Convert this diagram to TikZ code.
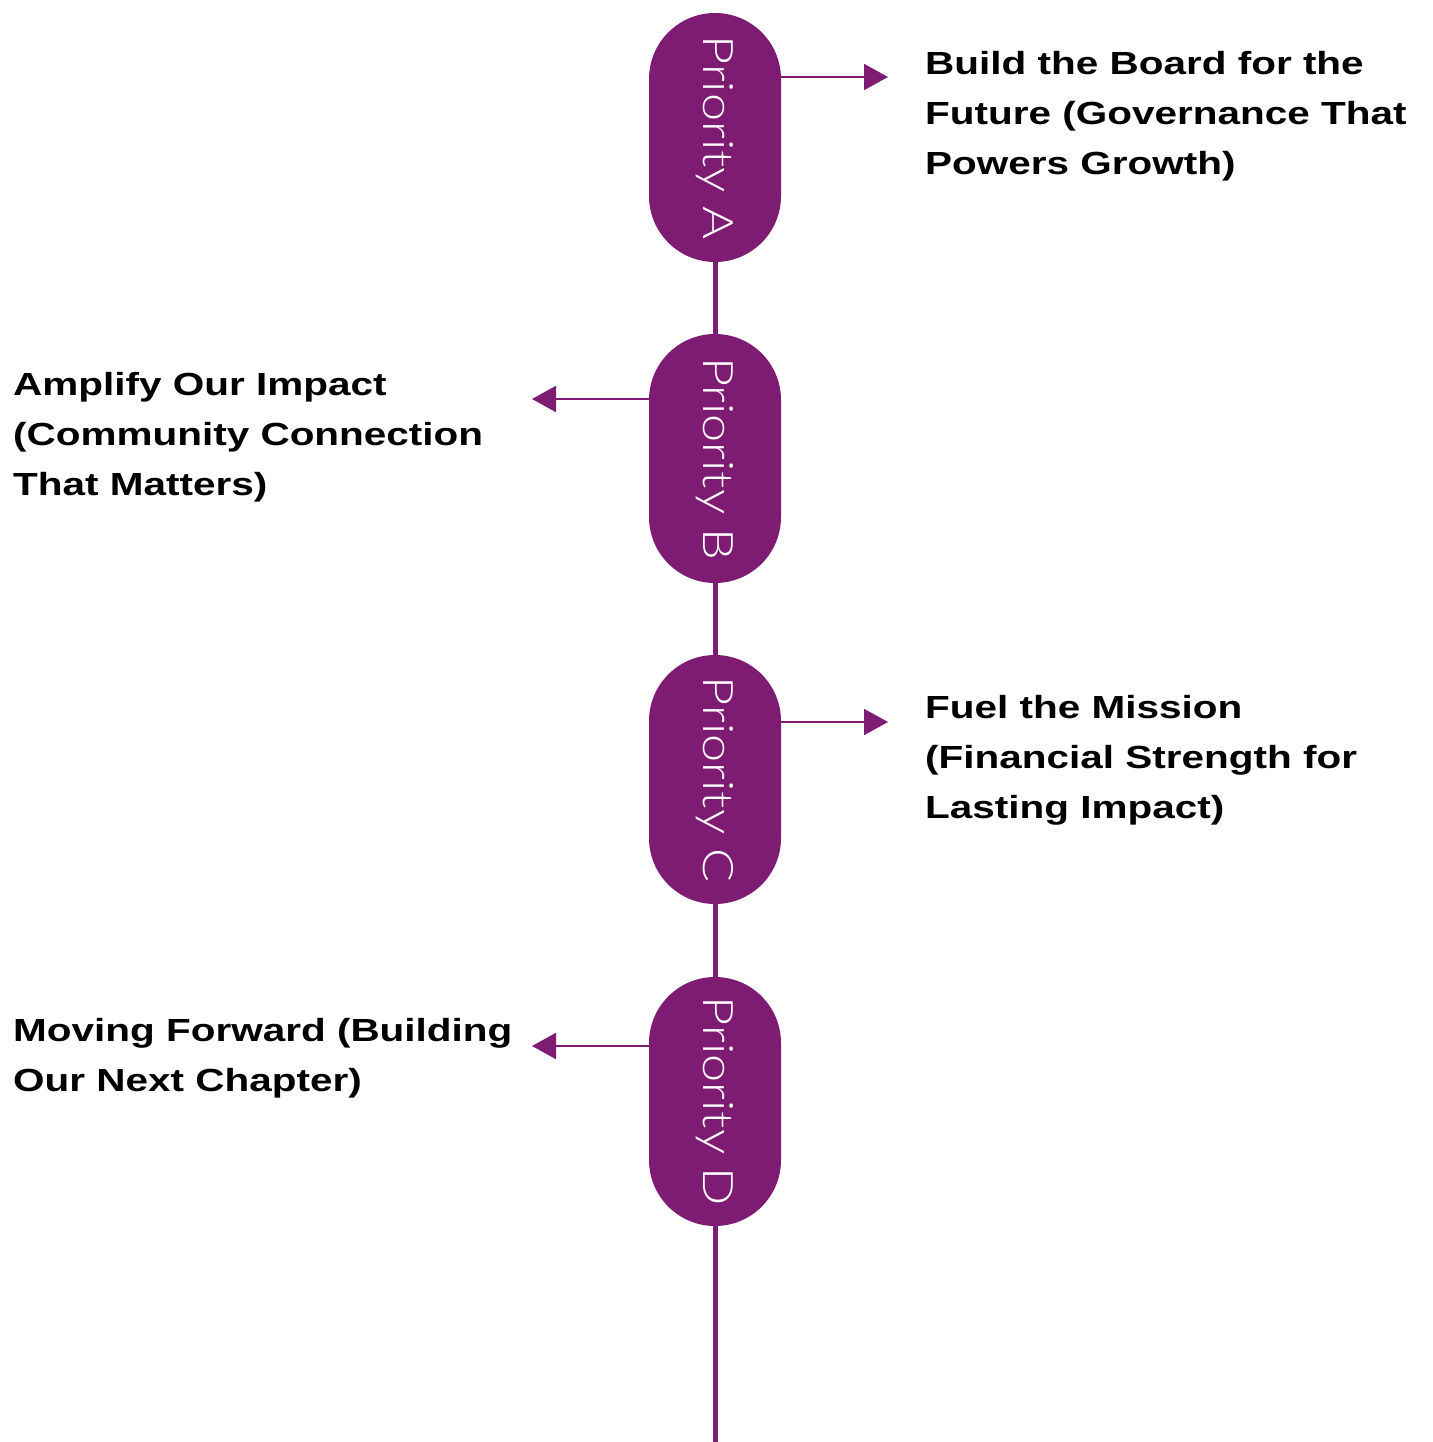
\documentclass[tikz,border=0pt]{standalone}
\usepackage{fontspec}
\usetikzlibrary{arrows.meta}
\definecolor{plum}{HTML}{7E1B73}
\newfontfamily\descfont[FakeStretch=1.265]{Liberation Sans}
\newfontfamily\pillfont[FakeStretch=1.2]{Lato Light}

\begin{document}
\begin{tikzpicture}[x=1pt,y=-1pt]
\tikzstyle{pill}=[fill=plum,rounded corners=66pt,minimum width=249pt,minimum height=132pt,inner sep=0pt,rotate=-90,text=white,font=\pillfont\fontsize{42}{42}\selectfont];
\tikzstyle{desc}=[anchor=base west,align=left,inner sep=0pt,font=\descfont\bfseries\fontsize{32}{50}\selectfont];
\tikzstyle{stem}=[draw=plum,line width=5pt];
\tikzstyle{dir}=[draw=plum,line width=2pt,-{Triangle[length=24pt,width=26pt]}];
\useasboundingbox (0,0) rectangle (1432,1442);
\node [pill] (pA) at (715,137.5) {Priority A};
\node [pill] (pB) at (715,458.5) {Priority B};
\node [pill] (pC) at (715,779.5) {Priority C};
\node [pill] (pD) at (715,1101.5) {Priority D};
\coordinate (bot) at (715,1442);
\draw [stem] (pA.east) -- (pB.west);
\draw [stem] (pB.east) -- (pC.west);
\draw [stem] (pC.east) -- (pD.west);
\draw [stem] (pD.east) -- (bot);
\coordinate (hA) at (888,77);
\coordinate (hB) at (532,399);
\coordinate (hC) at (888,722);
\coordinate (hD) at (532,1046);
\draw [dir] (pA.north |- hA) -- (hA);
\draw [dir] (pB.south |- hB) -- (hB);
\draw [dir] (pC.north |- hC) -- (hC);
\draw [dir] (pD.south |- hD) -- (hD);
% base anchor sits on the last line
\node [desc] (dA) at (925,175) {Build the Board for the\\Future (Governance That\\Powers Growth)};
\node [desc] (dB) at (13,495) {Amplify Our Impact\\(Community Connection\\That Matters)};
\node [desc] (dC) at (925,818) {Fuel the Mission\\(Financial Strength for\\Lasting Impact)};
\node [desc] (dD) at (13,1091) {Moving Forward (Building\\Our Next Chapter)};
\end{tikzpicture}
\end{document}
